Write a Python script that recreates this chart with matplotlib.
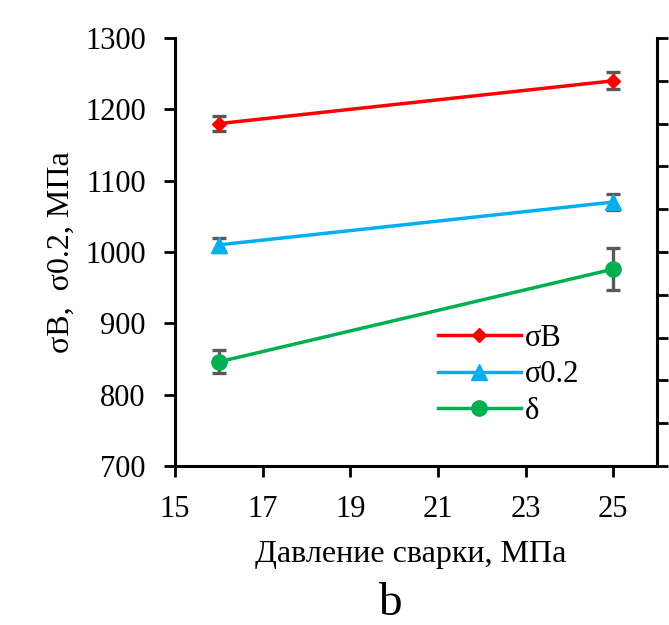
# Прочностные характеристики в зависимости от давления сварки

import matplotlib
matplotlib.use("Agg")
import matplotlib.pyplot as plt
import numpy as np

    # ДАННЫЕ

davlenie = np.array([16, 25]) # Давление сварки, МПа
sigma_b = np.array([1180, 1240]) # Предел прочности, МПа
sigma_b_err = np.array([10, 12])
sigma_02 = np.array([1010, 1070]) # Предел текучести, МПа
sigma_02_err = np.array([10, 11])
delta = np.array([846, 976]) # Относительное удлинение
delta_err = np.array([16, 29])

x_ticks = [15, 17, 19, 21, 23, 25]
y_ticks = [700, 800, 900, 1000, 1100, 1200, 1300]

    # ГРАФИК

plt.rcParams['font.family'] = ['Liberation Serif', 'DejaVu Serif']

fig = plt.figure(figsize=(6.69, 6.25), dpi=100)
ax = fig.add_axes([175/669, 1 - 466/625, (657 - 175)/669, (466 - 38)/625])

series = [
    (sigma_b, sigma_b_err, '#FF0000', 'D', 7.5, 'σB'),
    (sigma_02, sigma_02_err, '#00B0F0', '^', 11, 'σ0.2'),
    (delta, delta_err, '#00B050', 'o', 11, 'δ'),
]
for y, err, couleur, m, ms, nom in series:
    ax.errorbar(davlenie, y, yerr=err, fmt='none', ecolor='#595959',
                elinewidth=2.4, capsize=5, capthick=2.4, zorder=2)
    ax.plot(davlenie, y, color=couleur, marker=m, markersize=ms,
            linewidth=2.5, label=nom, zorder=3)

ax.set_xlim(15, 26)
ax.set_ylim(700, 1300)
ax.set_xticks(x_ticks)
ax.set_yticks(y_ticks)
ax.tick_params(axis='both', labelsize=22, width=2, length=8, direction='out')
ax.tick_params(axis='x', pad=13)
ax.tick_params(axis='y', pad=13)

for s in ['left', 'bottom']:
    ax.spines[s].set_linewidth(2.2)
ax.spines['top'].set_visible(False)
ax.spines['right'].set_visible(False)

# Вторая ось справа (подписи обрезаны)
ax2 = ax.twinx()
ax2.set_ylim(0, 10)
ax2.set_yticks(np.arange(0, 11, 1))
ax2.set_yticklabels([])
ax2.tick_params(axis='y', width=2, length=8, direction='out')
ax2.spines['right'].set_linewidth(2.2)
ax2.spines['top'].set_visible(False)
ax2.spines['left'].set_visible(False)
ax2.spines['bottom'].set_visible(False)

ax.set_xlabel('Давление сварки, МПа', fontsize=23)
ax.xaxis.set_label_coords(0.49, -0.172)
ax.set_ylabel('σB,  σ0.2, МПа', fontsize=23)
ax.yaxis.set_label_coords(-0.205, 0.5)

fig.legend(loc='center left', bbox_to_anchor=(438/669, 1 - 375/625), frameon=False,
           fontsize=22, handlelength=2.7, handletextpad=0.15, labelspacing=0.25,
           borderpad=0, borderaxespad=0)

fig.text(390/669, 1 - 604/625, 'b', fontsize=34, ha='center', va='center')

fig.savefig('out.png', dpi=100)
